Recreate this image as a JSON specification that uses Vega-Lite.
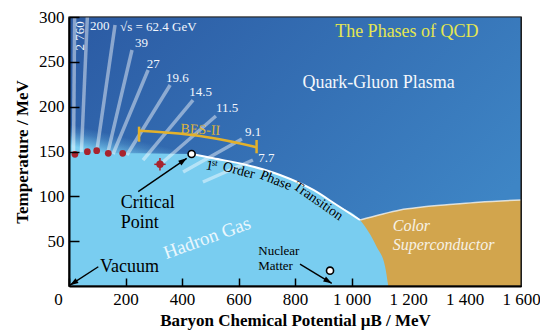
{
  "$schema": "https://vega.github.io/schema/vega-lite/v6.json",
  "width": 452,
  "height": 269,
  "autosize": {"type": "none"},
  "padding": {"left": 69, "right": 19, "top": 17, "bottom": 44},
  "config": {
    "font": "Liberation Serif",
    "view": {"stroke": "black", "strokeWidth": 1.2}
  },
  "datasets": {
    "qgp": [{"phase": "Quark-Gluon Plasma", "mu0": 0, "mu1": 1600, "t0": 0, "t1": 300}],
    "crossover": [{"mu0": 0, "mu1": 470, "t0": 140, "t1": 188}],
    "superconductor": [
      {"mu": 1030, "T": 73.6}, {"mu": 1100, "T": 79.5}, {"mu": 1172, "T": 84.8},
      {"mu": 1250, "T": 88}, {"mu": 1360, "T": 91.1}, {"mu": 1450, "T": 93.5},
      {"mu": 1600, "T": 96}
    ],
    "hadron": [
      {"mu": 0, "T": 147.5}, {"mu": 100, "T": 148}, {"mu": 200, "T": 148},
      {"mu": 300, "T": 147.8}, {"mu": 434, "T": 147.2}, {"mu": 511, "T": 142.4},
      {"mu": 629, "T": 135}, {"mu": 747, "T": 123.8}, {"mu": 865, "T": 107.1},
      {"mu": 948, "T": 90.3}, {"mu": 1030, "T": 73.6}, {"mu": 1089, "T": 43.9},
      {"mu": 1119, "T": 21.6}, {"mu": 1130, "T": 0}
    ],
    "firstOrder": [
      {"mu": 434, "T": 147.2}, {"mu": 511, "T": 142.4}, {"mu": 629, "T": 135},
      {"mu": 747, "T": 123.8}, {"mu": 865, "T": 107.1}, {"mu": 948, "T": 90.3},
      {"mu": 1030, "T": 73.6}
    ],
    "freezeout": [
      {"energy": "2 760", "mu": 16, "T": 147, "mu2": 20, "T2": 300, "labelMu": 39, "labelT": 279},
      {"energy": "200", "mu": 44, "T": 149.4, "mu2": 65, "T2": 300, "labelMu": 74, "labelT": 290},
      {"energy": "√s = 62.4 GeV", "mu": 99, "T": 151.7, "mu2": 163, "T2": 291, "labelMu": 180.5, "labelT": 288.8},
      {"energy": "39", "mu": 138, "T": 149.4, "mu2": 223, "T2": 263.2, "labelMu": 233.6, "labelT": 270.7},
      {"energy": "27", "mu": 156, "T": 147.2, "mu2": 280, "T2": 240.9, "labelMu": 275, "labelT": 247.3},
      {"energy": "19.6", "mu": 205, "T": 146.1, "mu2": 358, "T2": 224.2, "labelMu": 343, "labelT": 231.6},
      {"energy": "14.5", "mu": 262, "T": 140.5, "mu2": 439, "T2": 207.4, "labelMu": 426, "labelT": 216.7},
      {"energy": "11.5", "mu": 333, "T": 138.3, "mu2": 520, "T2": 189.6, "labelMu": 520, "labelT": 198.2},
      {"energy": "9.1", "mu": 404, "T": 127.1, "mu2": 612, "T2": 164, "labelMu": 623, "labelT": 172.1},
      {"energy": "7.7", "mu": 474, "T": 116, "mu2": 651, "T2": 140.5, "labelMu": 670, "labelT": 142.4}
    ],
    "chemicalFreezeout": [
      {"mu": 21, "T": 146.9}, {"mu": 65, "T": 149.8}, {"mu": 98, "T": 150.9},
      {"mu": 139, "T": 148}, {"mu": 190, "T": 148}
    ],
    "lattice": [{"mu": 322, "T": 135.7, "muLo": 302, "muHi": 342, "tLo": 128.7, "tHi": 142.7}],
    "bes": [
      {"mu": 248, "T": 173.2}, {"mu": 350, "T": 171}, {"mu": 464, "T": 167.3},
      {"mu": 560, "T": 162}, {"mu": 664, "T": 154.7}
    ],
    "besEnds": [{"mu": 248, "tLo": 160.9, "tHi": 177.7}, {"mu": 664, "tLo": 148, "tHi": 162.8}],
    "arrows": [
      {"name": "vacuum", "mu": 103.7, "T": 21.5, "mu2": 3.5, "T2": 0.9},
      {"name": "critical", "mu": 245, "T": 105.2, "mu2": 416.6, "T2": 142.4},
      {"name": "nuclear", "mu": 817.7, "T": 24.5, "mu2": 930, "T2": 3}
    ],
    "markers": [
      {"name": "Critical Point", "mu": 434, "T": 147.2},
      {"name": "Nuclear Matter", "mu": 924, "T": 17.1}
    ],
    "blackLabels": [
      {"text": "Critical", "mu": 183, "T": 92.2},
      {"text": "Point", "mu": 183, "T": 69.9},
      {"text": "Vacuum", "mu": 109.7, "T": 21.5}
    ],
    "nuclearLabel": [
      {"text": "Nuclear", "mu": 670, "T": 39},
      {"text": "Matter", "mu": 670, "T": 22.3}
    ],
    "colorSc": [
      {"text": "Color", "mu": 1146, "T": 66.9},
      {"text": "Superconductor", "mu": 1146, "T": 45.7}
    ],
    "transition": [
      {"word": "1", "mu": 496.6, "T": 134},
      {"word": "st", "mu": 506, "T": 138},
      {"word": "Order", "mu": 601, "T": 128.6},
      {"word": "Phase", "mu": 732, "T": 117.6},
      {"word": "Transition", "mu": 882, "T": 94.6}
    ]
  },
  "layer": [
    {
      "data": {"name": "qgp"},
      "mark": {
        "type": "rect",
        "color": {
          "gradient": "linear", "x1": 0, "y1": 0, "x2": 1, "y2": 0.6,
          "stops": [{"offset": 0, "color": "#2b5aa3"}, {"offset": 1, "color": "#3e85c5"}]
        }
      },
      "encoding": {
        "x": {
          "field": "mu0", "type": "quantitative",
          "scale": {"domain": [0, 1600], "nice": false},
          "axis": {
            "title": "Baryon Chemical Potential μB / MeV",
            "values": [0, 200, 400, 600, 800, 1000, 1200, 1400, 1600],
            "labelExpr": "replace(format(datum.value, ','), ',', ' ')",
            "labelFlush": false,
            "labelOffset": {"condition": {"test": "datum.value === 0", "value": -11}, "value": 0},
            "labelFontSize": 17, "labelColor": "black", "labelPadding": 13,
            "tickSize": -8, "tickColor": "black", "tickWidth": 1.5,
            "tickOpacity": {"condition": {"test": "datum.value >= 1200", "value": 0}, "value": 1},
            "domainColor": "black", "domainWidth": 2,
            "grid": false, "zindex": 1,
            "titleFontSize": 17, "titleFontWeight": "bold", "titleColor": "black", "titlePadding": 5
          }
        },
        "x2": {"field": "mu1"},
        "y": {
          "field": "t0", "type": "quantitative",
          "scale": {"domain": [0, 300], "nice": false},
          "axis": {
            "title": "Temperature / MeV",
            "values": [50, 100, 150, 200, 250, 300],
            "labelFlush": false,
            "labelFontSize": 17, "labelColor": "black", "labelPadding": 15,
            "tickSize": -10, "tickColor": "black", "tickWidth": 1.5,
            "domainColor": "black", "domainWidth": 2,
            "grid": false, "zindex": 1,
            "titleFontSize": 17, "titleFontWeight": "bold", "titleColor": "black", "titlePadding": 7
          }
        },
        "y2": {"field": "t1"}
      }
    },
    {
      "data": {"name": "crossover"},
      "mark": {
        "type": "rect",
        "color": {
          "gradient": "linear", "x1": 0, "y1": 1, "x2": 0.74, "y2": 0,
          "stops": [
            {"offset": 0, "color": "rgba(122,206,241,1)"},
            {"offset": 0.226, "color": "rgba(122,206,241,1)"},
            {"offset": 0.33, "color": "rgba(122,206,241,0.6)"},
            {"offset": 0.45, "color": "rgba(122,206,241,0.2)"},
            {"offset": 0.55, "color": "rgba(122,206,241,0)"},
            {"offset": 1, "color": "rgba(122,206,241,0)"}
          ]
        }
      },
      "encoding": {
        "x": {"field": "mu0", "type": "quantitative"},
        "x2": {"field": "mu1"},
        "y": {"field": "t0", "type": "quantitative"},
        "y2": {"field": "t1"}
      }
    },
    {
      "data": {"name": "superconductor"},
      "mark": {"type": "area", "interpolate": "monotone", "color": "#d2a54d"},
      "encoding": {
        "x": {"field": "mu", "type": "quantitative"},
        "y": {"field": "T", "type": "quantitative"}
      }
    },
    {
      "data": {"name": "superconductor"},
      "mark": {"type": "line", "interpolate": "monotone", "color": "#f4f4f0", "strokeWidth": 1.5, "opacity": 0.8},
      "encoding": {
        "x": {"field": "mu", "type": "quantitative"},
        "y": {"field": "T", "type": "quantitative"}
      }
    },
    {
      "data": {"name": "hadron"},
      "mark": {"type": "area", "interpolate": "monotone", "color": "#79cdf0"},
      "encoding": {
        "x": {"field": "mu", "type": "quantitative"},
        "y": {"field": "T", "type": "quantitative"}
      }
    },
    {
      "data": {"name": "firstOrder"},
      "mark": {"type": "line", "interpolate": "monotone", "color": "white", "strokeWidth": 2},
      "encoding": {
        "x": {"field": "mu", "type": "quantitative"},
        "y": {"field": "T", "type": "quantitative"}
      }
    },
    {
      "data": {"name": "freezeout"},
      "mark": {"type": "rule", "color": "white", "opacity": 0.45, "strokeWidth": 3.5},
      "encoding": {
        "x": {"field": "mu", "type": "quantitative"},
        "y": {"field": "T", "type": "quantitative"},
        "x2": {"field": "mu2"},
        "y2": {"field": "T2"}
      }
    },
    {
      "data": {"name": "freezeout"},
      "transform": [{"filter": "datum.energy !== '2 760'"}],
      "mark": {"type": "text", "align": "left", "baseline": "middle", "fontSize": 13, "color": "#f2f6fc"},
      "encoding": {
        "x": {"field": "labelMu", "type": "quantitative"},
        "y": {"field": "labelT", "type": "quantitative"},
        "text": {"field": "energy"}
      }
    },
    {
      "data": {"name": "freezeout"},
      "transform": [{"filter": "datum.energy === '2 760'"}],
      "mark": {"type": "text", "align": "center", "baseline": "middle", "fontSize": 13, "angle": 270, "color": "#f2f6fc"},
      "encoding": {
        "x": {"field": "labelMu", "type": "quantitative"},
        "y": {"field": "labelT", "type": "quantitative"},
        "text": {"field": "energy"}
      }
    },
    {
      "data": {"name": "chemicalFreezeout"},
      "mark": {"type": "point", "filled": true, "color": "#a8232d", "size": 45, "opacity": 1},
      "encoding": {
        "x": {"field": "mu", "type": "quantitative"},
        "y": {"field": "T", "type": "quantitative"}
      }
    },
    {
      "data": {"name": "lattice"},
      "mark": {"type": "rule", "color": "#a8232d", "strokeWidth": 1.5},
      "encoding": {
        "x": {"field": "muLo", "type": "quantitative"},
        "x2": {"field": "muHi"},
        "y": {"field": "T", "type": "quantitative"}
      }
    },
    {
      "data": {"name": "lattice"},
      "mark": {"type": "rule", "color": "#a8232d", "strokeWidth": 1.5},
      "encoding": {
        "x": {"field": "mu", "type": "quantitative"},
        "y": {"field": "tLo", "type": "quantitative"},
        "y2": {"field": "tHi"}
      }
    },
    {
      "data": {"name": "lattice"},
      "mark": {"type": "point", "filled": true, "color": "#a8232d", "size": 55, "opacity": 1},
      "encoding": {
        "x": {"field": "mu", "type": "quantitative"},
        "y": {"field": "T", "type": "quantitative"}
      }
    },
    {
      "data": {"name": "bes"},
      "mark": {"type": "line", "interpolate": "monotone", "color": "#e3b12b", "strokeWidth": 2.5},
      "encoding": {
        "x": {"field": "mu", "type": "quantitative"},
        "y": {"field": "T", "type": "quantitative"}
      }
    },
    {
      "data": {"name": "besEnds"},
      "mark": {"type": "rule", "color": "#e3b12b", "strokeWidth": 2.5},
      "encoding": {
        "x": {"field": "mu", "type": "quantitative"},
        "y": {"field": "tLo", "type": "quantitative"},
        "y2": {"field": "tHi"}
      }
    },
    {
      "data": {"values": [{"text": "BES-II", "mu": 465, "T": 174}]},
      "mark": {"type": "text", "align": "center", "baseline": "middle", "fontSize": 14, "angle": 3, "color": "#dcb43c"},
      "encoding": {
        "x": {"field": "mu", "type": "quantitative"},
        "y": {"field": "T", "type": "quantitative"},
        "text": {"field": "text"}
      }
    },
    {
      "data": {"name": "arrows"},
      "mark": {"type": "rule", "color": "black", "strokeWidth": 1.4},
      "encoding": {
        "x": {"field": "mu", "type": "quantitative"},
        "y": {"field": "T", "type": "quantitative"},
        "x2": {"field": "mu2"},
        "y2": {"field": "T2"}
      }
    },
    {
      "data": {"name": "arrows"},
      "transform": [{"filter": "datum.name === 'vacuum'"}],
      "mark": {"type": "point", "shape": "M0,0L-0.4,1.2L0.4,1.2Z", "filled": true, "color": "black", "opacity": 1, "size": 196, "angle": 237},
      "encoding": {
        "x": {"field": "mu2", "type": "quantitative"},
        "y": {"field": "T2", "type": "quantitative"}
      }
    },
    {
      "data": {"name": "arrows"},
      "transform": [{"filter": "datum.name === 'critical'"}],
      "mark": {"type": "point", "shape": "M0,0L-0.4,1.2L0.4,1.2Z", "filled": true, "color": "black", "opacity": 1, "size": 196, "angle": 55},
      "encoding": {
        "x": {"field": "mu2", "type": "quantitative"},
        "y": {"field": "T2", "type": "quantitative"}
      }
    },
    {
      "data": {"name": "arrows"},
      "transform": [{"filter": "datum.name === 'nuclear'"}],
      "mark": {"type": "point", "shape": "M0,0L-0.4,1.2L0.4,1.2Z", "filled": true, "color": "black", "opacity": 1, "size": 196, "angle": 121},
      "encoding": {
        "x": {"field": "mu2", "type": "quantitative"},
        "y": {"field": "T2", "type": "quantitative"}
      }
    },
    {
      "data": {"name": "markers"},
      "mark": {"type": "point", "filled": true, "fill": "white", "stroke": "black", "strokeWidth": 1.6, "size": 50, "opacity": 1},
      "encoding": {
        "x": {"field": "mu", "type": "quantitative"},
        "y": {"field": "T", "type": "quantitative"}
      }
    },
    {
      "data": {"name": "blackLabels"},
      "mark": {"type": "text", "align": "left", "baseline": "middle", "fontSize": 18, "color": "black"},
      "encoding": {
        "x": {"field": "mu", "type": "quantitative"},
        "y": {"field": "T", "type": "quantitative"},
        "text": {"field": "text"}
      }
    },
    {
      "data": {"name": "nuclearLabel"},
      "mark": {"type": "text", "align": "left", "baseline": "middle", "fontSize": 13, "color": "black"},
      "encoding": {
        "x": {"field": "mu", "type": "quantitative"},
        "y": {"field": "T", "type": "quantitative"},
        "text": {"field": "text"}
      }
    },
    {
      "data": {"name": "colorSc"},
      "mark": {"type": "text", "align": "left", "baseline": "middle", "fontSize": 16, "fontStyle": "italic", "color": "#f7f2e6"},
      "encoding": {
        "x": {"field": "mu", "type": "quantitative"},
        "y": {"field": "T", "type": "quantitative"},
        "text": {"field": "text"}
      }
    },
    {
      "data": {"values": [{"text": "Quark-Gluon Plasma", "mu": 1096, "T": 226}]},
      "mark": {"type": "text", "align": "center", "baseline": "middle", "fontSize": 18, "color": "#f4f7fb"},
      "encoding": {
        "x": {"field": "mu", "type": "quantitative"},
        "y": {"field": "T", "type": "quantitative"},
        "text": {"field": "text"}
      }
    },
    {
      "data": {"values": [{"text": "The Phases of QCD", "mu": 1196, "T": 283.6}]},
      "mark": {"type": "text", "align": "center", "baseline": "middle", "fontSize": 18, "color": "#e4e650"},
      "encoding": {
        "x": {"field": "mu", "type": "quantitative"},
        "y": {"field": "T", "type": "quantitative"},
        "text": {"field": "text"}
      }
    },
    {
      "data": {"values": [{"text": "Hadron Gas", "mu": 488.5, "T": 53.5}]},
      "mark": {"type": "text", "align": "center", "baseline": "middle", "fontSize": 19, "angle": 340, "color": "#eaf7fd"},
      "encoding": {
        "x": {"field": "mu", "type": "quantitative"},
        "y": {"field": "T", "type": "quantitative"},
        "text": {"field": "text"}
      }
    },
    {
      "data": {"name": "transition"},
      "transform": [{"filter": "datum.word === '1'"}],
      "mark": {"type": "text", "align": "center", "baseline": "middle", "fontSize": 14, "angle": 10, "color": "black"},
      "encoding": {
        "x": {"field": "mu", "type": "quantitative"},
        "y": {"field": "T", "type": "quantitative"},
        "text": {"field": "word"}
      }
    },
    {
      "data": {"name": "transition"},
      "transform": [{"filter": "datum.word === 'st'"}],
      "mark": {"type": "text", "align": "left", "baseline": "middle", "fontSize": 9, "angle": 10, "color": "black"},
      "encoding": {
        "x": {"field": "mu", "type": "quantitative"},
        "y": {"field": "T", "type": "quantitative"},
        "text": {"field": "word"}
      }
    },
    {
      "data": {"name": "transition"},
      "transform": [{"filter": "datum.word === 'Order'"}],
      "mark": {"type": "text", "align": "center", "baseline": "middle", "fontSize": 14, "angle": 15, "color": "black"},
      "encoding": {
        "x": {"field": "mu", "type": "quantitative"},
        "y": {"field": "T", "type": "quantitative"},
        "text": {"field": "word"}
      }
    },
    {
      "data": {"name": "transition"},
      "transform": [{"filter": "datum.word === 'Phase'"}],
      "mark": {"type": "text", "align": "center", "baseline": "middle", "fontSize": 14, "angle": 22, "color": "black"},
      "encoding": {
        "x": {"field": "mu", "type": "quantitative"},
        "y": {"field": "T", "type": "quantitative"},
        "text": {"field": "word"}
      }
    },
    {
      "data": {"name": "transition"},
      "transform": [{"filter": "datum.word === 'Transition'"}],
      "mark": {"type": "text", "align": "center", "baseline": "middle", "fontSize": 14, "angle": 35, "color": "black"},
      "encoding": {
        "x": {"field": "mu", "type": "quantitative"},
        "y": {"field": "T", "type": "quantitative"},
        "text": {"field": "word"}
      }
    },
    {
      "data": {"name": "qgp"},
      "mark": {"type": "rect", "filled": false, "stroke": "#222222", "strokeWidth": 1.2},
      "encoding": {
        "x": {"field": "mu0", "type": "quantitative"},
        "x2": {"field": "mu1"},
        "y": {"field": "t0", "type": "quantitative"},
        "y2": {"field": "t1"}
      }
    }
  ]
}
